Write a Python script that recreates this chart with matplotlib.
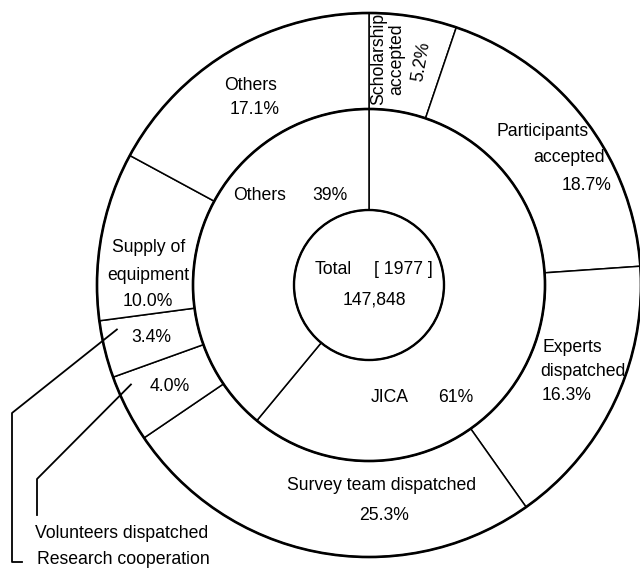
import numpy as np
import matplotlib.pyplot as plt

plt.rcParams['font.family'] = ['Liberation Sans', 'DejaVu Sans']

# outer ring, clockwise from the top
outer_labels = ['Scholarship accepted', 'Participants accepted', 'Experts dispatched',
                'Survey team dispatched', 'Volunteers dispatched', 'Research cooperation',
                'Supply of equipment', 'Others']
outer_pct = [5.2, 18.7, 16.3, 25.3, 4.0, 3.4, 10.0, 17.1]

# middle ring
inner_labels = ['JICA', 'Others']
inner_pct = [61, 39]

year = 1977
total = '147,848'

# layout (pixel coords, y up)
cx, cy = 369, 288
r_out, r_mid, r_in = 272, 176, 75

fig = plt.figure(figsize=(6.4, 5.73), dpi=100)
ax = fig.add_axes([0, 0, 1, 1])

wp = dict(facecolor='white', edgecolor='black', linewidth=1.1)
outer_w, _ = ax.pie(outer_pct, radius=r_out, center=(cx, cy), startangle=90,
                    counterclock=False, wedgeprops=dict(width=r_out - r_mid, **wp))
inner_w, _ = ax.pie(inner_pct, radius=r_mid, center=(cx, cy), startangle=90,
                    counterclock=False, wedgeprops=dict(width=r_mid - r_in, **wp))

for r, lw in [(r_out, 1.9), (r_mid, 1.9), (r_in, 1.7)]:
    ax.add_patch(plt.Circle((cx, cy), r, fill=False, color='black', lw=lw, zorder=5))

ax.set_xlim(0, 640)
ax.set_ylim(0, 573)
ax.set_aspect('equal')
ax.axis('off')

fs = 12.7
H = 573


def txt(x, y, s, **kw):
    ax.text(x, H - y, s, fontsize=fs, ha='center', va='center', color='black', **kw)


def pt(wedge, frac, r):
    a = np.deg2rad(wedge.theta1 + frac * (wedge.theta2 - wedge.theta1))
    return cx + r * np.cos(a), cy + r * np.sin(a)


# outer labels
txt(388, 59, 'Scholarship\naccepted', rotation=90, linespacing=1.1)
txt(421, 61, f'{outer_pct[0]}%', rotation=80)
txt(543, 131, 'Participants')
txt(569, 158, 'accepted')
txt(587, 185, f'{outer_pct[1]}%')
txt(572, 347, 'Experts')
txt(583, 371, 'dispatched')
txt(567, 395, f'{outer_pct[2]}%')
txt(382, 485, outer_labels[3])
txt(384, 515, f'{outer_pct[3]}%')
# the two thin segments: labels at the middle of their wedges
for i in (4, 5):
    x, y = pt(outer_w[i], 0.5, 224)
    ax.text(x, y, f'{outer_pct[i]}%', fontsize=fs, ha='center', va='center', color='black')
txt(149, 247, 'Supply of')
txt(148, 275, 'equipment')
txt(148, 302, f'{outer_pct[6]}%')
txt(251, 85, outer_labels[7])
txt(255, 110, f'{outer_pct[7]}%')

# middle ring labels
txt(390, 398, inner_labels[0])
txt(456, 397, f'{inner_pct[0]}%')
txt(260, 196, inner_labels[1])
txt(330, 195, f'{inner_pct[1]}%')

# centre
txt(333, 270, 'Total')
txt(403, 270, f'[ {year} ]')
txt(374, 300, total)

# leader lines for the two thin segments
# Volunteers dispatched (wedge index 4)
x0, y0 = pt(outer_w[4], 0.2, 258)
ax.plot([x0, 37, 37], [y0, H - 479, H - 515], color='black', lw=1.3)
ax.text(35, H - 533, outer_labels[4], fontsize=fs, ha='left', va='center', color='black')
# Research cooperation (wedge index 5)
x1, y1 = pt(outer_w[5], 0.2, 256)
ax.plot([x1, 12, 12, 22], [y1, H - 413, H - 562, H - 562], color='black', lw=1.3)
ax.text(37, H - 560, outer_labels[5], fontsize=fs, ha='left', va='center', color='black')

fig.savefig('out.png', dpi=100, facecolor='white')
